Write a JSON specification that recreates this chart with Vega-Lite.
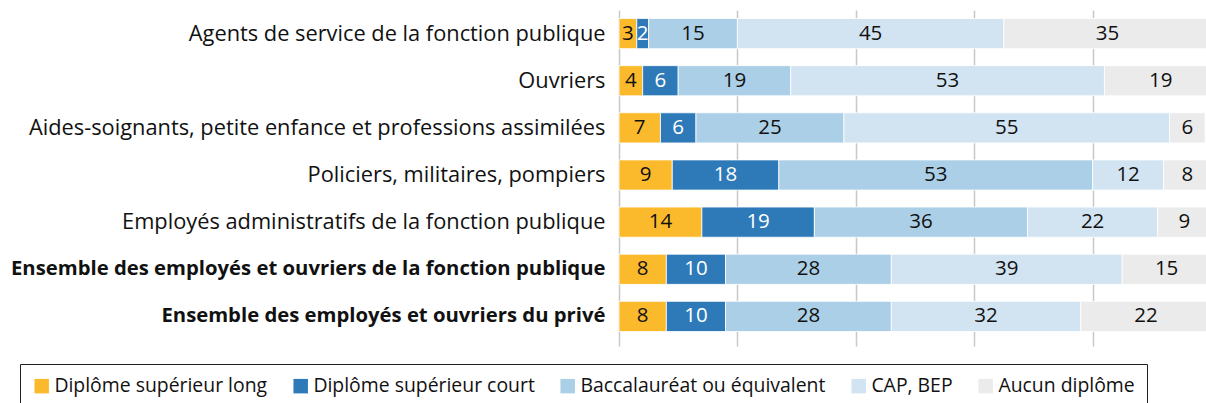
{
  "$schema": "https://vega.github.io/schema/vega-lite/v6.json",
  "autosize": "none",
  "width": 592,
  "height": 330,
  "padding": {"left": 619, "top": 10, "right": 0, "bottom": 70},
  "background": "white",
  "config": {"view": {"stroke": null}, "font": "Open Sans"},
  "data": {"values": [
    {"cat": "Agents de service de la fonction publique", "niveau": "Diplôme supérieur long", "o": 1, "v": 3},
    {"cat": "Agents de service de la fonction publique", "niveau": "Diplôme supérieur court", "o": 2, "v": 2},
    {"cat": "Agents de service de la fonction publique", "niveau": "Baccalauréat ou équivalent", "o": 3, "v": 15},
    {"cat": "Agents de service de la fonction publique", "niveau": "CAP, BEP", "o": 4, "v": 45},
    {"cat": "Agents de service de la fonction publique", "niveau": "Aucun diplôme", "o": 5, "v": 35},
    {"cat": "Ouvriers", "niveau": "Diplôme supérieur long", "o": 1, "v": 4},
    {"cat": "Ouvriers", "niveau": "Diplôme supérieur court", "o": 2, "v": 6},
    {"cat": "Ouvriers", "niveau": "Baccalauréat ou équivalent", "o": 3, "v": 19},
    {"cat": "Ouvriers", "niveau": "CAP, BEP", "o": 4, "v": 53},
    {"cat": "Ouvriers", "niveau": "Aucun diplôme", "o": 5, "v": 19},
    {"cat": "Aides-soignants, petite enfance et professions assimilées", "niveau": "Diplôme supérieur long", "o": 1, "v": 7},
    {"cat": "Aides-soignants, petite enfance et professions assimilées", "niveau": "Diplôme supérieur court", "o": 2, "v": 6},
    {"cat": "Aides-soignants, petite enfance et professions assimilées", "niveau": "Baccalauréat ou équivalent", "o": 3, "v": 25},
    {"cat": "Aides-soignants, petite enfance et professions assimilées", "niveau": "CAP, BEP", "o": 4, "v": 55},
    {"cat": "Aides-soignants, petite enfance et professions assimilées", "niveau": "Aucun diplôme", "o": 5, "v": 6},
    {"cat": "Policiers, militaires, pompiers", "niveau": "Diplôme supérieur long", "o": 1, "v": 9},
    {"cat": "Policiers, militaires, pompiers", "niveau": "Diplôme supérieur court", "o": 2, "v": 18},
    {"cat": "Policiers, militaires, pompiers", "niveau": "Baccalauréat ou équivalent", "o": 3, "v": 53},
    {"cat": "Policiers, militaires, pompiers", "niveau": "CAP, BEP", "o": 4, "v": 12},
    {"cat": "Policiers, militaires, pompiers", "niveau": "Aucun diplôme", "o": 5, "v": 8},
    {"cat": "Employés administratifs de la fonction publique", "niveau": "Diplôme supérieur long", "o": 1, "v": 14},
    {"cat": "Employés administratifs de la fonction publique", "niveau": "Diplôme supérieur court", "o": 2, "v": 19},
    {"cat": "Employés administratifs de la fonction publique", "niveau": "Baccalauréat ou équivalent", "o": 3, "v": 36},
    {"cat": "Employés administratifs de la fonction publique", "niveau": "CAP, BEP", "o": 4, "v": 22},
    {"cat": "Employés administratifs de la fonction publique", "niveau": "Aucun diplôme", "o": 5, "v": 9},
    {"cat": "Ensemble des employés et ouvriers de la fonction publique", "niveau": "Diplôme supérieur long", "o": 1, "v": 8},
    {"cat": "Ensemble des employés et ouvriers de la fonction publique", "niveau": "Diplôme supérieur court", "o": 2, "v": 10},
    {"cat": "Ensemble des employés et ouvriers de la fonction publique", "niveau": "Baccalauréat ou équivalent", "o": 3, "v": 28},
    {"cat": "Ensemble des employés et ouvriers de la fonction publique", "niveau": "CAP, BEP", "o": 4, "v": 39},
    {"cat": "Ensemble des employés et ouvriers de la fonction publique", "niveau": "Aucun diplôme", "o": 5, "v": 15},
    {"cat": "Ensemble des employés et ouvriers du privé", "niveau": "Diplôme supérieur long", "o": 1, "v": 8},
    {"cat": "Ensemble des employés et ouvriers du privé", "niveau": "Diplôme supérieur court", "o": 2, "v": 10},
    {"cat": "Ensemble des employés et ouvriers du privé", "niveau": "Baccalauréat ou équivalent", "o": 3, "v": 28},
    {"cat": "Ensemble des employés et ouvriers du privé", "niveau": "CAP, BEP", "o": 4, "v": 32},
    {"cat": "Ensemble des employés et ouvriers du privé", "niveau": "Aucun diplôme", "o": 5, "v": 22}
  ]},
  "encoding": {
    "y": {
      "field": "cat", "type": "nominal", "title": null,
      "sort": ["Agents de service de la fonction publique", "Ouvriers", "Aides-soignants, petite enfance et professions assimilées", "Policiers, militaires, pompiers", "Employés administratifs de la fonction publique", "Ensemble des employés et ouvriers de la fonction publique", "Ensemble des employés et ouvriers du privé"],
      "scale": {"paddingInner": 0.36, "paddingOuter": 0.18},
      "axis": {
        "domain": false, "ticks": false, "labelPadding": 14,
        "labelFontSize": {"expr": "indexof(datum.label, 'Ensemble') == 0 ? 20.3 : 21.8"},
        "labelColor": "#111", "labelLimit": 700, "labelFont": "Open Sans",
        "labelFontWeight": {"expr": "indexof(datum.label, 'Ensemble') == 0 ? 'bold' : 'normal'"}
      }
    }
  },
  "layer": [
    {
      "mark": {"type": "bar", "stroke": "white", "strokeWidth": 0.8},
      "encoding": {
        "x": {
          "field": "v", "type": "quantitative", "stack": "zero",
          "scale": {"domain": [0, 100], "nice": false},
          "axis": {"title": null, "labels": false, "values": [0, 20, 40, 60, 80, 100], "grid": true, "gridColor": "#c8c8c8", "gridWidth": 1.5, "domain": false, "ticks": true, "tickSize": 6, "tickColor": "#c8c8c8", "tickWidth": 1.5}
        },
        "color": {
          "field": "niveau", "type": "nominal",
          "sort": ["Diplôme supérieur long", "Diplôme supérieur court", "Baccalauréat ou équivalent", "CAP, BEP", "Aucun diplôme"],
          "scale": {
            "domain": ["Diplôme supérieur long", "Diplôme supérieur court", "Baccalauréat ou équivalent", "CAP, BEP", "Aucun diplôme"],
            "range": ["#FBBA2B", "#2E7AB9", "#ABCFE6", "#D2E4F1", "#EBEBEB"]
          },
          "legend": {
            "title": null, "orient": "none", "direction": "horizontal", "columns": 5,
            "legendX": -599, "legendY": 354,
            "symbolType": "square", "symbolSize": 210, "symbolStrokeWidth": 0,
            "labelFontSize": 19.4, "labelFont": "Open Sans", "labelColor": "#111", "labelOffset": 3, "labelLimit": 400,
            "columnPadding": 23, "padding": 12,
            "strokeColor": "#222", "fillColor": "white"
          }
        },
        "order": {"field": "o", "type": "quantitative"}
      }
    },
    {
      "mark": {"type": "text", "fontSize": 20.5, "font": "Open Sans", "baseline": "middle", "align": "center"},
      "encoding": {
        "x": {"field": "v", "type": "quantitative", "stack": "zero", "bandPosition": 0.5},
        "detail": {"field": "niveau"},
        "order": {"field": "o", "type": "quantitative"},
        "text": {"field": "v", "type": "quantitative"},
        "color": {"condition": {"test": "datum.niveau == 'Diplôme supérieur court'", "value": "white"}, "value": "#111"}
      }
    }
  ]
}
